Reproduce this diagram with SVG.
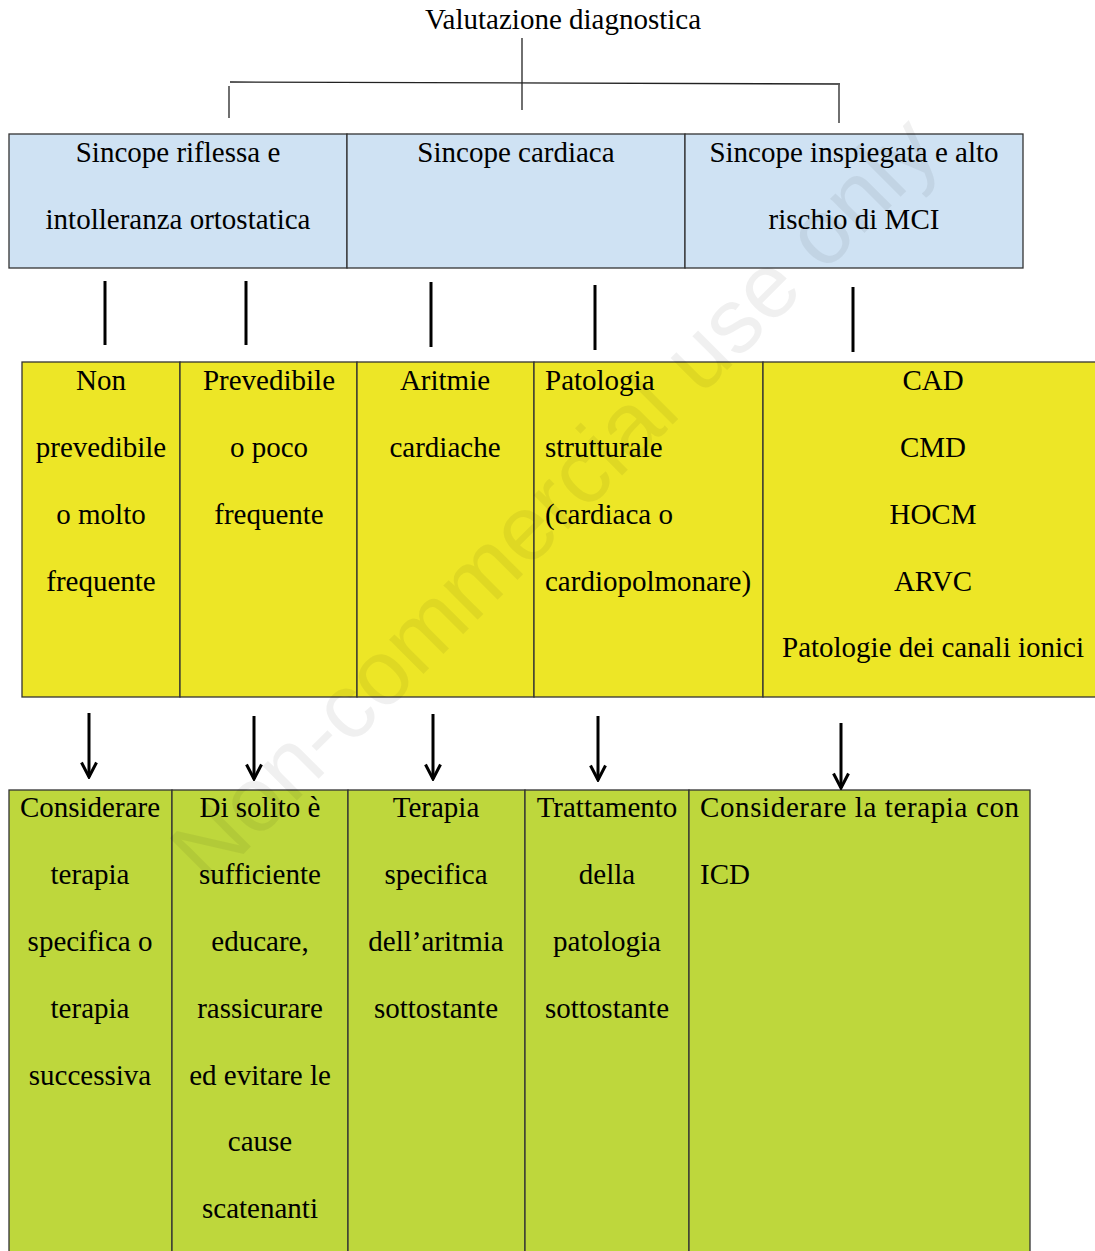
<svg xmlns="http://www.w3.org/2000/svg" width="1095" height="1251" viewBox="0 0 1095 1251">
<style>
text{font-family:"Liberation Serif","Times New Roman",serif;font-size:29px;fill:#000}
.c{text-anchor:middle}
.cell{stroke:#333;stroke-width:1.3}
.blue{fill:#cfe2f3}
.yel{fill:#ede626}
.grn{fill:#bed73c}
.thin{stroke:#222;stroke-width:1.3;fill:none}
.thick{stroke:#000;stroke-width:3;fill:none}
.arr{stroke:#000;stroke-width:3;fill:none}
.wm{font-family:"Liberation Sans",Arial,sans-serif;font-size:92px;fill:#000;fill-opacity:0.06}
</style>
<defs>
<marker id="ah" viewBox="0 0 18 18" refX="16" refY="9" markerWidth="18" markerHeight="18" markerUnits="userSpaceOnUse" orient="auto">
<path d="M1.5,1.5 L16,9 L1.5,16.5" fill="none" stroke="#000" stroke-width="3"/>
</marker>
</defs>
<rect width="1095" height="1251" fill="#fff"/>

<g id="title">
<text class="c" x="563" y="29">Valutazione diagnostica</text>
</g>

<g id="row1">
<g id="n-riflessa">
<rect class="cell blue" x="9" y="134" width="338" height="134"/>
<text class="c" x="178" y="162">Sincope riflessa e</text>
<text class="c" x="178" y="229">intolleranza ortostatica</text>
</g>
<g id="n-cardiaca">
<rect class="cell blue" x="347" y="134" width="338" height="134"/>
<text class="c" x="516" y="162">Sincope cardiaca</text>
</g>
<g id="n-inspiegata">
<rect class="cell blue" x="685" y="134" width="338" height="134"/>
<text class="c" x="854" y="162">Sincope inspiegata e alto</text>
<text class="c" x="854" y="229">rischio di MCI</text>
</g>
</g>

<g id="row2">
<g id="n-nonprev">
<rect class="cell yel" x="22" y="362" width="158" height="335"/>
<text class="c" x="101" y="390">Non</text>
<text class="c" x="101" y="457">prevedibile</text>
<text class="c" x="101" y="524">o molto</text>
<text class="c" x="101" y="591">frequente</text>
</g>
<g id="n-prev">
<rect class="cell yel" x="180" y="362" width="177" height="335"/>
<text class="c" x="269" y="390">Prevedibile</text>
<text class="c" x="269" y="457">o poco</text>
<text class="c" x="269" y="524">frequente</text>
</g>
<g id="n-aritmie">
<rect class="cell yel" x="357" y="362" width="177" height="335"/>
<text class="c" x="445" y="390">Aritmie</text>
<text class="c" x="445" y="457">cardiache</text>
</g>
<g id="n-patologia">
<rect class="cell yel" x="534" y="362" width="229" height="335"/>
<text x="545" y="390">Patologia</text>
<text x="545" y="457">strutturale</text>
<text x="545" y="524">(cardiaca o</text>
<text x="545" y="591">cardiopolmonare)</text>
</g>
<g id="n-cad">
<rect class="cell yel" x="763" y="362" width="340" height="335"/>
<text class="c" x="933" y="390">CAD</text>
<text class="c" x="933" y="457">CMD</text>
<text class="c" x="933" y="524">HOCM</text>
<text class="c" x="933" y="591">ARVC</text>
<text class="c" x="933" y="657">Patologie dei canali ionici</text>
</g>
</g>

<g id="row3">
<g id="n-considerare">
<rect class="cell grn" x="9" y="790" width="163" height="470"/>
<text class="c" x="90" y="817">Considerare</text>
<text class="c" x="90" y="884">terapia</text>
<text class="c" x="90" y="951">specifica o</text>
<text class="c" x="90" y="1018">terapia</text>
<text class="c" x="90" y="1085">successiva</text>
</g>
<g id="n-disolito">
<rect class="cell grn" x="172" y="790" width="176" height="470"/>
<text class="c" x="260" y="817">Di solito è</text>
<text class="c" x="260" y="884">sufficiente</text>
<text class="c" x="260" y="951">educare,</text>
<text class="c" x="260" y="1018">rassicurare</text>
<text class="c" x="260" y="1085">ed evitare le</text>
<text class="c" x="260" y="1151">cause</text>
<text class="c" x="260" y="1218">scatenanti</text>
</g>
<g id="n-terapia">
<rect class="cell grn" x="348" y="790" width="177" height="470"/>
<text class="c" x="436" y="817">Terapia</text>
<text class="c" x="436" y="884">specifica</text>
<text class="c" x="436" y="951">dell’aritmia</text>
<text class="c" x="436" y="1018">sottostante</text>
</g>
<g id="n-trattamento">
<rect class="cell grn" x="525" y="790" width="164" height="470"/>
<text class="c" x="607" y="817">Trattamento</text>
<text class="c" x="607" y="884">della</text>
<text class="c" x="607" y="951">patologia</text>
<text class="c" x="607" y="1018">sottostante</text>
</g>
<g id="n-icd">
<rect class="cell grn" x="689" y="790" width="341" height="470"/>
<text x="700" y="817" textLength="319" lengthAdjust="spacing">Considerare la terapia con</text>
<text x="700" y="884">ICD</text>
</g>
</g>

<g id="connectors">
<line class="thin" x1="522" y1="38" x2="522" y2="110"/>
<line class="thin" x1="230" y1="82" x2="840" y2="84"/>
<line class="thin" x1="229" y1="86" x2="229" y2="118"/>
<line class="thin" x1="839" y1="85" x2="839" y2="123"/>
<line class="thick" x1="105" y1="281" x2="105" y2="345"/>
<line class="thick" x1="246" y1="281" x2="246" y2="345"/>
<line class="thick" x1="431" y1="282" x2="431" y2="347"/>
<line class="thick" x1="595" y1="285" x2="595" y2="350"/>
<line class="thick" x1="853" y1="287" x2="853" y2="352"/>
<line class="arr" x1="89" y1="713" x2="89" y2="777" marker-end="url(#ah)"/>
<line class="arr" x1="254" y1="716" x2="254" y2="779" marker-end="url(#ah)"/>
<line class="arr" x1="433" y1="714" x2="433" y2="779" marker-end="url(#ah)"/>
<line class="arr" x1="598" y1="716" x2="598" y2="780" marker-end="url(#ah)"/>
<line class="arr" x1="841" y1="723" x2="841" y2="788" marker-end="url(#ah)"/>
</g>

<text class="wm" x="555" y="530" text-anchor="middle" transform="rotate(-45 555 500)">Non-commercial use only</text>
</svg>
